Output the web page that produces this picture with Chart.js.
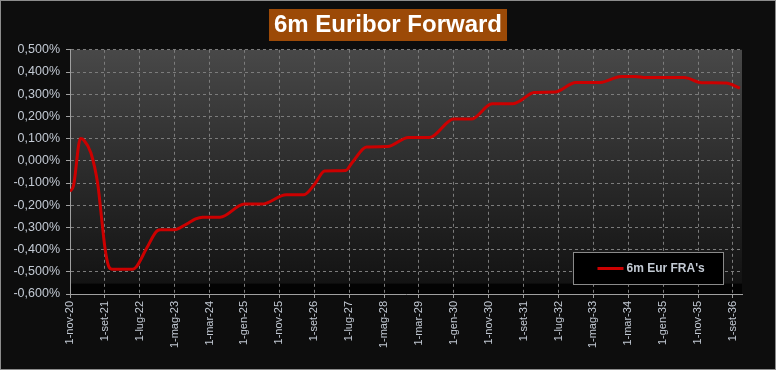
<!DOCTYPE html>
<html>
<head>
<meta charset="utf-8">
<script src="https://cdn.jsdelivr.net/npm/chart.js@4.4.1/dist/chart.umd.min.js"></script>
<style>
  html, body { margin: 0; padding: 0; background: #0d0d0d; }
  #wrap { width: 776px; height: 370px; box-sizing: border-box; border: 1px solid #8c8c8c; background: #0d0d0d; }
  #wrap canvas { display: block; }
</style>
</head>
<body>
<div id="wrap"><canvas id="chartFra" width="774" height="368"></canvas></div>
<script>
// months counted from 1-nov-20
const monthOffsets = [0, 1, 3, 4, 6, 8, 9, 10, 11, 12, 18, 19, 22, 25, 26, 30, 32, 34, 36, 38, 43, 50, 55, 62, 67, 70, 73, 79, 81, 85, 91, 97, 103, 110, 115, 121, 127, 129, 133, 139, 145, 152, 158, 162, 165, 176, 181, 188, 192];
// 6m Eur FRA's, in %
const fraRates = [-0.138, -0.112, 0.100, 0.093, 0.035, -0.110, -0.250, -0.390, -0.472, -0.488, -0.488, -0.478, -0.393, -0.315, -0.311, -0.311, -0.298, -0.280, -0.262, -0.254, -0.254, -0.195, -0.195, -0.153, -0.153, -0.108, -0.046, -0.044, -0.005, 0.062, 0.064, 0.105, 0.105, 0.188, 0.188, 0.257, 0.257, 0.270, 0.308, 0.310, 0.353, 0.353, 0.380, 0.380, 0.375, 0.375, 0.352, 0.350, 0.327];
const xTickLabels = ['1-nov-20', '1-set-21', '1-lug-22', '1-mag-23', '1-mar-24', '1-gen-25', '1-nov-25', '1-set-26', '1-lug-27', '1-mag-28', '1-mar-29', '1-gen-30', '1-nov-30', '1-set-31', '1-lug-32', '1-mag-33', '1-mar-34', '1-gen-35', '1-nov-35', '1-set-36'];
const seriesName = "6m Eur FRA's";
const chartTitle = '6m Euribor Forward';

const labelColor = '#c3cad4';

// plot background gradient + brown box behind the title
const backdrop = {
  id: 'backdrop',
  beforeDraw(chart) {
    const { ctx, chartArea: a } = chart;
    const g = ctx.createLinearGradient(0, a.top, 0, a.bottom);
    g.addColorStop(0, '#484848');
    g.addColorStop(0.5, '#2b2b2b');
    g.addColorStop(0.955, '#131313');
    g.addColorStop(0.96, '#030303');
    g.addColorStop(1, '#030303');
    ctx.save();
    ctx.fillStyle = g;
    ctx.fillRect(a.left, a.top, a.right - a.left, a.bottom - a.top);
    const tb = chart.titleBlock;
    const cx = (tb.left + tb.right) / 2;
    ctx.font = 'bold 24px Arial';
    const w = ctx.measureText(chartTitle).width;
    ctx.fillStyle = '#9c4a07';
    ctx.fillRect(cx - w / 2 - 5, 8, w + 10, 32);
    ctx.restore();
  }
};

// legend box inside the plot, lower right
const boxLegend = {
  id: 'boxLegend',
  afterDraw(chart) {
    const { ctx, chartArea: a } = chart;
    const ds = chart.data.datasets[0];
    const x = a.right - 168.5, y = a.bottom - 41.5, w = 150, h = 32;
    ctx.save();
    ctx.fillStyle = '#000';
    ctx.fillRect(x, y, w, h);
    ctx.strokeStyle = '#8a8a8a';
    ctx.lineWidth = 1;
    ctx.strokeRect(x, y, w, h);
    ctx.strokeStyle = ds.borderColor;
    ctx.lineWidth = 3;
    ctx.beginPath();
    ctx.moveTo(x + 24, y + 16);
    ctx.lineTo(x + 50, y + 16);
    ctx.stroke();
    ctx.fillStyle = labelColor;
    ctx.font = 'bold 12px Arial';
    ctx.textBaseline = 'middle';
    ctx.fillText(ds.label, x + 53, y + 16);
    ctx.restore();
  }
};

new Chart(document.getElementById('chartFra'), {
  type: 'line',
  data: {
    datasets: [{
      label: seriesName,
      data: monthOffsets.map((m, i) => ({ x: m, y: fraRates[i] })),
      borderColor: '#cc0000',
      borderWidth: 3,
      pointRadius: 0,
      cubicInterpolationMode: 'monotone'
    }]
  },
  options: {
    responsive: false,
    animation: false,
    layout: { padding: 0 },
    plugins: {
      legend: { display: false },
      tooltip: { enabled: false },
      title: {
        display: true,
        text: chartTitle,
        color: '#ffffff',
        font: { family: 'Arial', size: 24, weight: 'bold' },
        padding: { top: 10, bottom: 10 }
      }
    },
    scales: {
      x: {
        type: 'linear',
        min: 0,
        max: 192.6,
        afterBuildTicks: s => { s.ticks = s.ticks.filter(t => Math.abs(t.value / 10 - Math.round(t.value / 10)) < 1e-6); },
        afterFit: s => { s.height = 75; },
        ticks: {
          stepSize: 10,
          includeBounds: false,
          autoSkip: false,
          maxRotation: 90,
          minRotation: 90,
          padding: 3,
          color: labelColor,
          font: { family: 'Arial', size: 11 },
          callback: v => xTickLabels[Math.round(v / 10)]
        },
        grid: { color: '#7c7c7c', tickColor: '#a0a0a0', tickLength: 4, tickBorderDash: [] },
        border: { color: '#a0a0a0', dash: [3, 3] }
      },
      y: {
        min: -0.6,
        max: 0.5,
        afterFit: s => { s.width = 69; },
        ticks: {
          stepSize: 0.1,
          padding: 6,
          color: labelColor,
          font: { family: 'Arial', size: 12.5 },
          callback: v => (Math.abs(v) < 1e-9 ? 0 : v).toFixed(3).replace('.', ',') + '%'
        },
        grid: { color: '#7c7c7c', tickColor: '#a0a0a0', tickLength: 4, tickBorderDash: [] },
        border: { color: '#a0a0a0', dash: [3, 3] }
      },
      // empty right-hand margin, keeps the title centred on the whole canvas
      yRight: {
        position: 'right',
        afterFit: s => { s.width = 33; },
        ticks: { display: false },
        grid: { display: false },
        border: { display: false }
      }
    }
  },
  plugins: [backdrop, boxLegend]
});
</script>
</body>
</html>
